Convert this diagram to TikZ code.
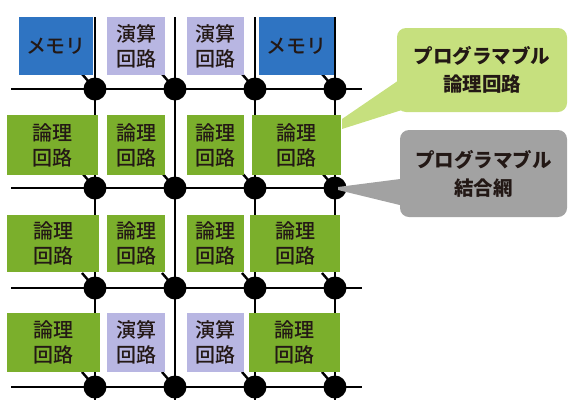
\documentclass[tikz,border=0pt]{standalone}
\usepackage{fontspec}
\newfontfamily\jp{Noto Sans CJK JP}
\newfontfamily\jpm{Noto Sans CJK JP Medium}
\definecolor{txt}{HTML}{231815}
\definecolor{memblue}{HTML}{2F74C2}
\definecolor{lav}{HTML}{B8B6E2}
\definecolor{lgreen}{HTML}{7BAF2C}
\definecolor{cgreen}{HTML}{C6E07E}
\definecolor{cgray}{HTML}{A2A2A2}
\tikzset{
  cell/.style={draw=none, inner sep=0pt, align=center, text=txt,
    font={\jpm\fontsize{20}{25}\selectfont}},
  mem/.style={cell, fill=memblue},
  alu/.style={cell, fill=lav},
  logic/.style={cell, fill=lgreen},
  wire/.style={line width=2.6pt, black},
  stub/.style={line width=2.4pt, black},
  dot/.style={circle, fill=black, inner sep=0pt, minimum size=23pt},
  callout/.style={rounded corners=9pt, inner sep=0pt, align=center, text=txt,
    font={\jp\bfseries\fontsize{19.5}{28}\selectfont}}
}
\begin{document}
\begin{tikzpicture}[x=1pt,y=-1pt]
\useasboundingbox (0,0) rectangle (568,400);
% grid coordinates
\foreach \r/\y in {1/89,2/188,3/288,4/387}{
  \foreach \c/\x in {1/95,2/175,3/255,4/335}{
    \coordinate (p\r\c) at (\x,\y);
  }
  \coordinate (hl\r) at (11,\y);
  \coordinate (hr\r) at (362,\y);
}
\foreach \c/\x in {1/95,2/175,3/255,4/335}{
  \coordinate (vt\c) at (\x,17);
  \coordinate (vb\c) at (\x,400);
}
% wires
\foreach \r in {1,2,3,4}{ \draw[wire] (hl\r) -- (hr\r); }
\foreach \c in {1,2,3,4}{ \draw[wire] (vt\c) -- (vb\c); }
% stubs
\foreach \r in {1,2,3,4}{
  \foreach \c in {1,2,3,4}{
    \draw[stub] (p\r\c) -- ++(-13,-15);
  }
}
% row 1
\node[mem, minimum width=74pt, minimum height=58pt] (b11) at (56,46) {メモリ};
\node[alu, minimum width=58pt, minimum height=58pt] (b12) at (136,46) {演算\\回路};
\node[alu, minimum width=57pt, minimum height=58pt] (b13) at (215.5,46) {演算\\回路};
\node[mem, minimum width=75pt, minimum height=58pt] (b14) at (296.5,46) {メモリ};
% row 2
\node[logic, minimum width=91pt, minimum height=60pt] (b21) at (52.5,145) {論理\\回路};
\node[logic, minimum width=58pt, minimum height=60pt] (b22) at (136,145) {論理\\回路};
\node[logic, minimum width=57pt, minimum height=60pt] (b23) at (215.5,145) {論理\\回路};
\node[logic, minimum width=89pt, minimum height=60pt] (b24) at (296.5,145) {論理\\回路};
% row 3
\node[logic, minimum width=92pt, minimum height=57pt] (b31) at (53,243.5) {論理\\回路};
\node[logic, minimum width=58pt, minimum height=57pt] (b32) at (136,243.5) {論理\\回路};
\node[logic, minimum width=57pt, minimum height=57pt] (b33) at (215.5,243.5) {論理\\回路};
\node[logic, minimum width=90pt, minimum height=57pt] (b34) at (295,243.5) {論理\\回路};
% row 4
\node[logic, minimum width=93pt, minimum height=59pt] (b41) at (53.5,342.5) {論理\\回路};
\node[alu, minimum width=58pt, minimum height=59pt] (b42) at (136,342.5) {演算\\回路};
\node[alu, minimum width=57pt, minimum height=59pt] (b43) at (215.5,342.5) {演算\\回路};
\node[logic, minimum width=91pt, minimum height=59pt] (b44) at (294.5,342.5) {論理\\回路};
% dots
\foreach \r in {1,2,3,4}{
  \foreach \c in {1,2,3,4}{
    \node[dot] (d\r\c) at (p\r\c) {};
  }
}
% callouts
\coordinate (gtip1) at (342,119);
\coordinate (gtip2) at (342,129);
\fill[cgreen] (gtip1) -- (405,76) -- (405,109) -- (gtip2) -- cycle;
\node[callout, fill=cgreen, minimum width=170pt, minimum height=84pt] (cl1) at (482,70) {プログラマブル\\論理回路};
\coordinate (ktip1) at (338,187);
\coordinate (ktip2) at (338,190);
\fill[cgray] (ktip1) -- (408,178) -- (408,207) -- (ktip2) -- cycle;
\node[callout, fill=cgray, minimum width=167pt, minimum height=87pt] (cl2) at (483.5,173.5) {プログラマブル\\結合網};
\end{tikzpicture}
\end{document}
